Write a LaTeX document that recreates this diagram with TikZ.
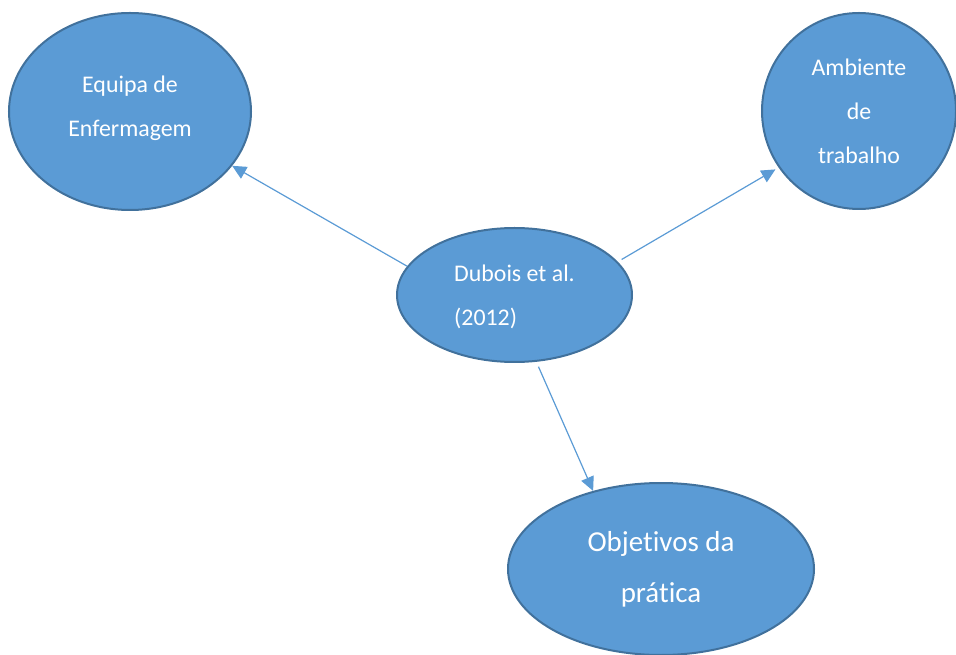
\documentclass[tikz,border=0pt]{standalone}
\usepackage{fontspec}
\setmainfont[Ligatures=NoCommon]{Carlito}
\usetikzlibrary{shapes.geometric,arrows.meta}
\definecolor{fillblue}{HTML}{5B9BD5}
\definecolor{edgeblue}{HTML}{41719C}
\tikzset{
  blob/.style={ellipse, draw=edgeblue, fill=fillblue, line width=1.5pt, inner sep=0pt,
    text=white, font={\fontsize{17.9pt}{33pt}\selectfont}},
  bigtext/.style={font={\fontsize{21.7pt}{38pt}\selectfont}},
  link/.style={draw=fillblue, line width=0.9pt, -{Triangle[length=10.5pt,width=10pt]}}
}
\begin{document}
\begin{tikzpicture}[x=0.75pt,y=-0.75pt]
\useasboundingbox (0,0) rectangle (956,655);
\node[blob, minimum width=242*0.75pt, minimum height=197*0.75pt, align=center, text depth=8pt] (tl) at (130,111.5) {Equipa de\\Enfermagem};
\node[blob, minimum width=194*0.75pt, minimum height=196*0.75pt, align=center] (tr) at (859,111) {Ambiente\\de\\trabalho};
\node[blob, minimum width=235*0.75pt, minimum height=134*0.75pt, align=left, text depth=-1.5pt] (c) at (514.5,295) {Dubois et al.\\(2012)};
\node[blob, bigtext, minimum width=306*0.75pt, minimum height=172*0.75pt, align=center] (b) at (661,569) {Objetivos da\\prática};
\draw[link] (c.165.9) -- (tl.-28);
\draw[link] ([shift={(4,-2)}]c.18.8) -- ([shift={(-3,2)}]tr.215);
\draw[link] ([shift={(1,5)}]c.-71) -- (b.131);
\end{tikzpicture}
\end{document}
